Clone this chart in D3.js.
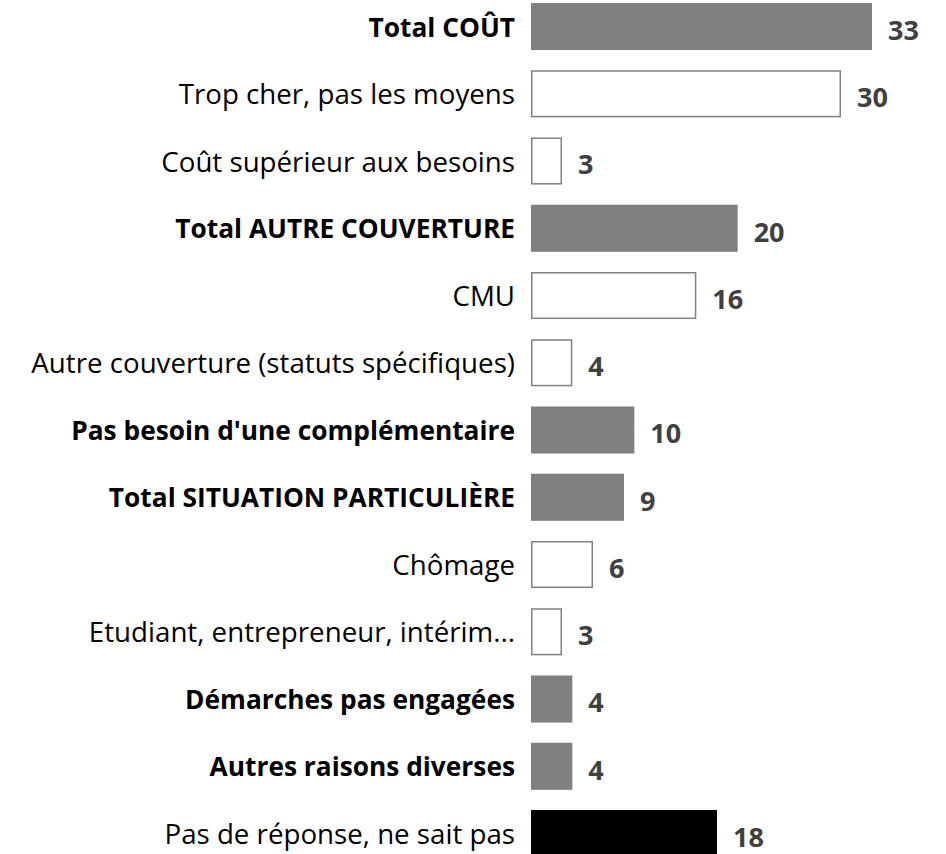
<!DOCTYPE html>
<html><head><meta charset="utf-8">
<script src="https://cdn.jsdelivr.net/npm/d3@7"></script>
<style>body{margin:0;background:#fff;} svg{display:block;}</style>
</head><body>
<svg id="chart" width="946" height="854"></svg>
<script>
const categories = [
  "Total COÛT",
  "Trop cher, pas les moyens",
  "Coût supérieur aux besoins",
  "Total AUTRE COUVERTURE",
  "CMU",
  "Autre couverture (statuts spécifiques)",
  "Pas besoin d'une complémentaire",
  "Total SITUATION PARTICULIÈRE",
  "Chômage",
  "Etudiant, entrepreneur, intérim...",
  "Démarches pas engagées",
  "Autres raisons diverses",
  "Pas de réponse, ne sait pas"
];
const values = [33, 30, 3, 20, 16, 4, 10, 9, 6, 3, 4, 4, 18];
const kinds = ["total","sub","sub","total","sub","sub","total","total","sub","sub","total","total","none"];

const svg = d3.select("#chart");
const font = "'Open Sans', sans-serif";
const x0 = 531;
const x = d3.scaleLinear().domain([0, 33]).range([x0, 872]);
const y = d3.scaleBand().domain(categories).range([-7.1, 867.15]).paddingInner(0.3).paddingOuter(0.15);

const fill = {total:"#808080", sub:"#ffffff", none:"#000000"};

const g = svg.append("g");
categories.forEach((c, i) => {
  const k = kinds[i];
  const yy = y(c), h = y.bandwidth();
  const w = x(values[i]) - x0;
  g.append("rect")
    .attr("x", k === "sub" ? x0 + 0.75 : x0)
    .attr("y", k === "sub" ? yy + 0.75 : yy)
    .attr("width", k === "sub" ? w - 1.5 : w)
    .attr("height", k === "sub" ? h - 1.5 : h)
    .attr("fill", fill[k])
    .attr("stroke", k === "sub" ? "#808080" : "none")
    .attr("stroke-width", 1.5);
  g.append("text")
    .attr("x", 515)
    .attr("y", yy + h / 2 + 1)
    .attr("dy", "0.35em")
    .attr("text-anchor", "end")
    .attr("font-family", font)
    .attr("font-size", k === "total" ? 26.3 : 27.7)
    .attr("font-weight", k === "total" ? "bold" : "normal")
    .attr("fill", "#000")
    .text(c);
  g.append("text")
    .attr("x", x(values[i]) + 16)
    .attr("y", yy + h / 2 + 4)
    .attr("dy", "0.35em")
    .attr("font-family", font)
    .attr("font-size", 27)
    .attr("font-weight", "bold")
    .attr("fill", "#404040")
    .text(values[i]);
});
</script>
</body></html>
